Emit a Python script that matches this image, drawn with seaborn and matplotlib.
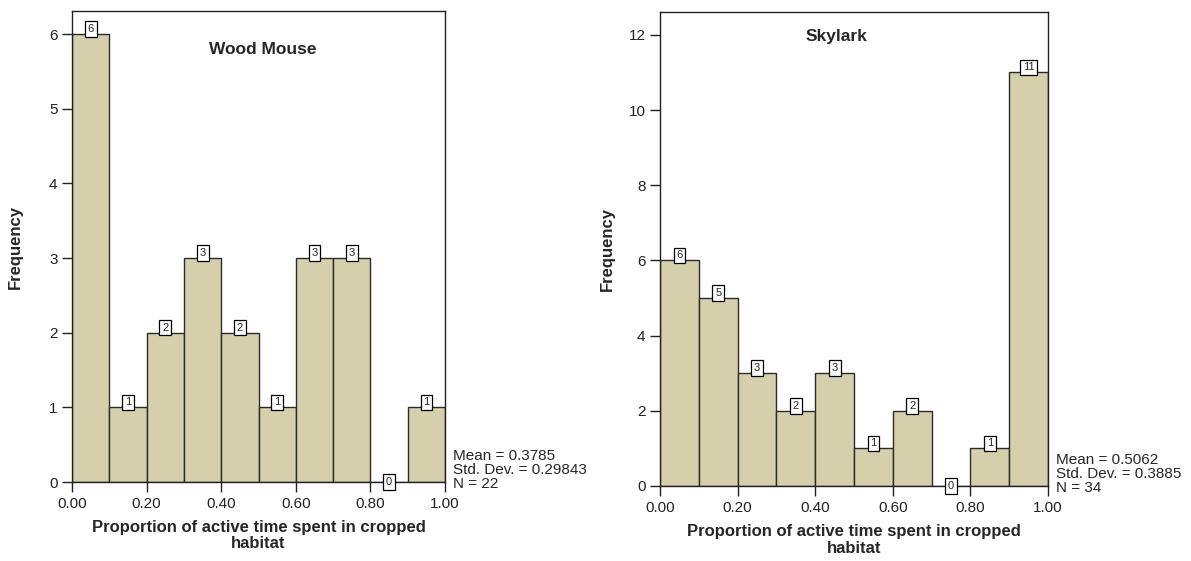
import numpy as np
import matplotlib
matplotlib.use("Agg")
import matplotlib.pyplot as plt
import seaborn as sns

# Histogram data (10 bins of width 0.1)
bin_edges = [0.0, 0.1, 0.2, 0.3, 0.4, 0.5, 0.6, 0.7, 0.8, 0.9, 1.0]
mouse_counts = [6, 1, 2, 3, 2, 1, 3, 3, 0, 1]
skylark_counts = [6, 5, 3, 2, 3, 1, 2, 0, 1, 11]
mouse_stats = "Mean = 0.3785\nStd. Dev. = 0.29843\nN = 22"
skylark_stats = "Mean = 0.5062\nStd. Dev. = 0.3885\nN = 34"
xticks = [0.0, 0.2, 0.4, 0.6, 0.8, 1.0]
mouse_yticks = [0, 1, 2, 3, 4, 5, 6]
skylark_yticks = [0, 2, 4, 6, 8, 10, 12]

bar_color = "#d5cfab"
edge_color = "#2b2b2b"

sns.set_style("ticks")
plt.rcParams["font.family"] = ["Liberation Sans", "DejaVu Sans"]

fig = plt.figure(figsize=(11.91, 5.61), dpi=100)
ax1 = fig.add_axes([0.0605, 0.1408, 0.3132, 0.8396])
ax2 = fig.add_axes([0.5542, 0.1337, 0.3258, 0.8450])

centers = [(a + b) / 2 for a, b in zip(bin_edges[:-1], bin_edges[1:])]


def draw_panel(ax, counts, title, title_pos, ylim, yticks, stats, ylab_x):
    sns.histplot(x=centers, weights=counts, bins=bin_edges, ax=ax,
                 color=bar_color, edgecolor=edge_color, linewidth=1.0,
                 alpha=1.0)
    ax.set_xlim(0, 1)
    ax.set_ylim(0, ylim)
    ax.set_xticks(xticks)
    ax.set_xticklabels([f"{t:.2f}" for t in xticks])
    ax.set_yticks(yticks)
    ax.tick_params(direction="out", length=7, width=1.0, labelsize=11,
                   colors="#222222")
    ax.tick_params(axis="x", pad=4)
    for s in ax.spines.values():
        s.set_visible(True)
        s.set_linewidth(1.0)
        s.set_color("#222222")
    ax.set_xlabel("Proportion of active time spent in cropped\nhabitat",
                  fontsize=12, fontweight="bold", linespacing=1.15,
                  va="top")
    ax.xaxis.set_label_coords(0.5, -0.080)
    ax.set_ylabel("Frequency", fontsize=12, fontweight="bold")
    ax.yaxis.set_label_coords(ylab_x, 0.5)
    ax.text(title_pos[0], title_pos[1], title, transform=ax.transAxes,
            ha="center", va="center", fontsize=12.5, fontweight="bold")
    # count boxes on top of bars
    for c, n in zip(centers, counts):
        ax.text(c, n, str(n), ha="center",
                va="bottom" if n > 0 else "center",
                fontsize=8, zorder=5, clip_on=False,
                bbox=dict(boxstyle="square,pad=0.25", fc="white",
                          ec="black", lw=0.9))
    ax.text(1.02, -0.02, stats, transform=ax.transAxes, ha="left",
            va="bottom", fontsize=11, linespacing=1.02)


draw_panel(ax1, mouse_counts, "Wood Mouse", (0.51, 0.919), 6.31,
           mouse_yticks, mouse_stats, -0.131)
draw_panel(ax2, skylark_counts, "Skylark", (0.454, 0.949), 12.61,
           skylark_yticks, skylark_stats, -0.116)

fig.savefig("out.png", dpi=100)
